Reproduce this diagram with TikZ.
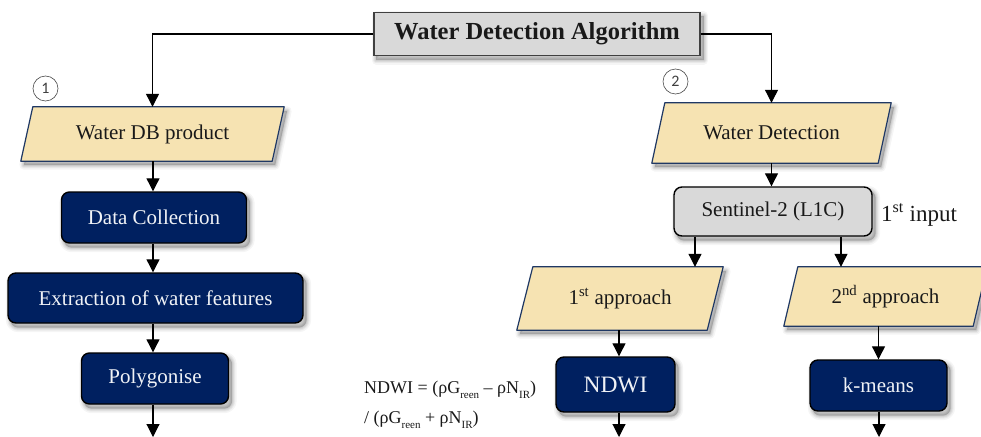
\documentclass[tikz,border=0pt]{standalone}
\usepackage{fontspec}
\setmainfont{Liberation Serif}
\newfontfamily\circfont{Carlito}
\usetikzlibrary{arrows.meta,backgrounds}
\definecolor{navy}{RGB}{0,32,96}
\definecolor{wheat}{RGB}{246,227,178}
\definecolor{pborder}{RGB}{31,56,100}
\definecolor{boxgray}{RGB}{217,217,217}
\definecolor{txt}{RGB}{25,25,25}

\newcommand\lsub[1]{\raisebox{-5.5pt}{\fontsize{11}{11}\selectfont #1}}

% soft shadow of a closed path
\newcommand\softshadow[1]{%
  \begin{scope}[transform canvas={xshift=3pt,yshift=-4pt}]
    \fill[black,opacity=0.20] #1;
    \draw[black,opacity=0.06,line width=2pt,line join=round] #1;
    \draw[black,opacity=0.06,line width=4pt,line join=round] #1;
    \draw[black,opacity=0.05,line width=6pt,line join=round] #1;
    \draw[black,opacity=0.04,line width=9pt,line join=round] #1;
  \end{scope}}

% parallelogram behind a named node: #1 node, #2 slant
\newcommand\parabox[2]{%
  \softshadow{([xshift=#2]#1.north west) -- ([xshift=#2]#1.north east) -- ([xshift=-#2]#1.south east) -- ([xshift=-#2]#1.south west) -- cycle}
  \path[fill=wheat,draw=pborder,line width=1.2pt,line join=round]
    ([xshift=#2]#1.north west) -- ([xshift=#2]#1.north east) -- ([xshift=-#2]#1.south east) -- ([xshift=-#2]#1.south west) -- cycle;}

\newcommand\boxshadow[1]{%
  \softshadow{[rounded corners=8pt] (#1.north west) rectangle (#1.south east)}}

\tikzset{
  arr/.style={draw=black,line width=1.1pt,-{Triangle[width=13pt,length=13pt]}},
  navybox/.style={draw=black,line width=1.4pt,fill=navy,rounded corners=8pt,
    text=white!94!navy,font=\fontsize{21}{21}\selectfont,inner sep=0pt},
  graybox/.style={draw=black,line width=1.4pt,fill=boxgray,rounded corners=8pt,
    text=txt,font=\fontsize{21}{21}\selectfont,inner sep=0pt},
  titlebox/.style={draw=black!75,line width=1.2pt,fill=boxgray,
    text=txt,font=\fontsize{24.5}{24.5}\selectfont\bfseries,inner sep=0pt},
  parnode/.style={inner sep=0pt,text=txt,font=\fontsize{21}{21}\selectfont},
  circ/.style={circle,draw=black!70,line width=0.6pt,fill=white,minimum size=25pt,
    inner sep=0pt,text=black!75,font=\circfont\fontsize{16}{16}\selectfont},
  plaintext/.style={text=txt,inner sep=0pt}
}

\begin{document}
\begin{tikzpicture}[x=1pt,y=-1pt]
\useasboundingbox (0,0) rectangle (981,436);

% title
\node[titlebox,minimum width=326pt,minimum height=43pt] (title) at (537,34) {Water Detection Algorithm};

% left column
\node[parnode,minimum width=251pt,minimum height=54pt] (wdb) at (152.5,134) {Water DB product};
\node[navybox,minimum width=185pt,minimum height=51pt] (data) at (154,217.5) {Data Collection};
\node[navybox,minimum width=295pt,minimum height=50pt] (extr) at (155.5,298) {Extraction of water features};
\node[navybox,minimum width=147pt,minimum height=51pt] (poly) at (155,378.5) {Polygonise};
\coordinate (e0) at (153,437);

% right part
\node[parnode,minimum width=226pt,minimum height=60pt] (wdet) at (771.5,133) {Water Detection};
\node[graybox,minimum width=198pt,minimum height=49pt] (sent) at (773,211.5) {Sentinel-2 (L1C)};
\node[plaintext,font=\fontsize{23}{23}\selectfont,anchor=west] (inp) at (881,215) {1\textsuperscript{st} input};
\node[parnode,minimum width=190pt,minimum height=63pt] (app1) at (620,298.5) {1\textsuperscript{st} approach};
\node[parnode,minimum width=189pt,minimum height=59pt] (app2) at (885.5,296.5) {2\textsuperscript{nd} approach};
\node[navybox,font=\fontsize{23.5}{23.5}\selectfont,minimum width=119pt,minimum height=55pt] (ndwi) at (615.5,384.5) {NDWI};
\node[navybox,minimum width=137pt,minimum height=51pt] (kmeans) at (878.5,385.5) {k-means};
\coordinate (e1) at (619,437);
\coordinate (e2) at (879,437);

% formula
\node[plaintext,font=\fontsize{18}{18}\selectfont,anchor=base west] (f1) at (364,393)
  {NDWI = (ρG\lsub{reen} – ρN\lsub{IR})};
\node[plaintext,font=\fontsize{18}{18}\selectfont,anchor=base west] (f2) at (364,423)
  {/ (ρG\lsub{reen} + ρN\lsub{IR})};

% circled numbers
\node[circ] (c1) at (45.5,88.5) {1};
\node[circ] (c2) at (675.5,81.5) {2};

% background: shadows and parallelograms
\begin{pgfonlayer}{background}
  \softshadow{(title.north west) rectangle (title.south east)}
  \boxshadow{data}
  \boxshadow{extr}
  \boxshadow{poly}
  \boxshadow{sent}
  \boxshadow{ndwi}
  \boxshadow{kmeans}
  \parabox{wdb}{6pt}
  \parabox{wdet}{6.5pt}
  \parabox{app1}{8pt}
  \parabox{app2}{7pt}
\end{pgfonlayer}

% connectors
\draw[arr] (title.west) -| (wdb.north);
\draw[arr] (title.east) -| (wdet.north);
\draw[arr] (wdb.south -| e0) -- (data.north -| e0);
\draw[arr] (data.south -| e0) -- (extr.north -| e0);
\draw[arr] (extr.south -| e0) -- (poly.north -| e0);
\draw[arr] (poly.south -| e0) -- (e0);

\draw[arr] (wdet.south) -- (wdet.south |- sent.north);
\draw[arr] ([xshift=-78pt]sent.south) -- ([xshift=-78pt]sent.south |- app1.north);
\draw[arr] ([xshift=68pt]sent.south) -- ([xshift=68pt]sent.south |- app2.north);
\draw[arr] (app1.south -| e1) -- (ndwi.north -| e1);
\draw[arr] (ndwi.south -| e1) -- (e1);
\draw[arr] (app2.south -| kmeans.north) -- (kmeans.north);
\draw[arr] (kmeans.south -| e2) -- (e2);
\end{tikzpicture}
\end{document}
